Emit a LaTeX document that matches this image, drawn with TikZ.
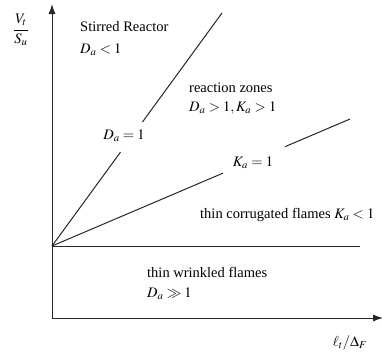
\documentclass[tikz,border=0pt]{standalone}
\usepackage{amsmath}
\usepackage{amssymb}
\usepackage{mathptmx}
\usepackage[no-math]{fontspec}
\setmainfont{Liberation Serif}
\usepackage{tikz}
\usetikzlibrary{calc,arrows.meta}
\tikzset{regline/.style={line width=1pt, black!85},
         axisline/.style={line width=1pt, black!85, -{Latex[length=10pt,width=7pt]}},
         regtxt/.style={anchor=west, inner sep=0pt},
         bordlbl/.style={inner sep=0pt}}

\begin{document}
\begin{tikzpicture}[x=1pt, y=-1pt, font=\fontsize{14.5}{17}\selectfont]

\useasboundingbox (0,0) rectangle (382,354);

% axes
\coordinate (orig) at (52,318);
\coordinate (ytip) at (52,4);
\coordinate (xtip) at (383,318);
\draw[axisline] (orig) -- (ytip);
\draw[axisline] (orig) -- (xtip);

\node[] (ylbl) at (21,30) {$\displaystyle\frac{V_t}{S_u}$};
\node[] (xlbl) at (350,343) {$\ell_t/\Delta_F$};

% borders between the regimes
\coordinate (vtx) at (52,246);
\coordinate (datop) at (222,13);
\coordinate (katop) at (350,119);
\coordinate (hend) at (360,246);

% gaps left for the labels
\coordinate (dalo) at ($(vtx)!0.403!(datop)$);
\coordinate (dahi) at ($(vtx)!0.532!(datop)$);
\coordinate (kalo) at ($(vtx)!0.574!(katop)$);
\coordinate (kahi) at ($(vtx)!0.782!(katop)$);

\node[bordlbl] (daone) at (124,136) {$D_a=1$};
\draw[regline] (vtx) -- (dalo);
\draw[regline] (dahi) -- (datop);

\node[bordlbl] (kaone) at (253,163) {$K_a=1$};
\draw[regline] (vtx) -- (kalo);
\draw[regline] (kahi) -- (katop);

\draw[regline] (vtx) -- (hend);

% regimes
\node[regtxt] (stir) at (80,27) {Stirred Reactor};
\node[regtxt] (stirda) at (80,50) {$D_a<1$};

\node[regtxt] (reac) at (189,88) {reaction zones};
\node[regtxt] (reacda) at (189,108) {$D_a>1, K_a>1$};

\node[regtxt] (corr) at (200,215) {thin corrugated flames $K_a<1$};

\node[regtxt] (wrin) at (147,272) {thin wrinkled flames};
\node[regtxt] (wrinda) at (147,294) {$D_a\gg1$};

\end{tikzpicture}
\end{document}
